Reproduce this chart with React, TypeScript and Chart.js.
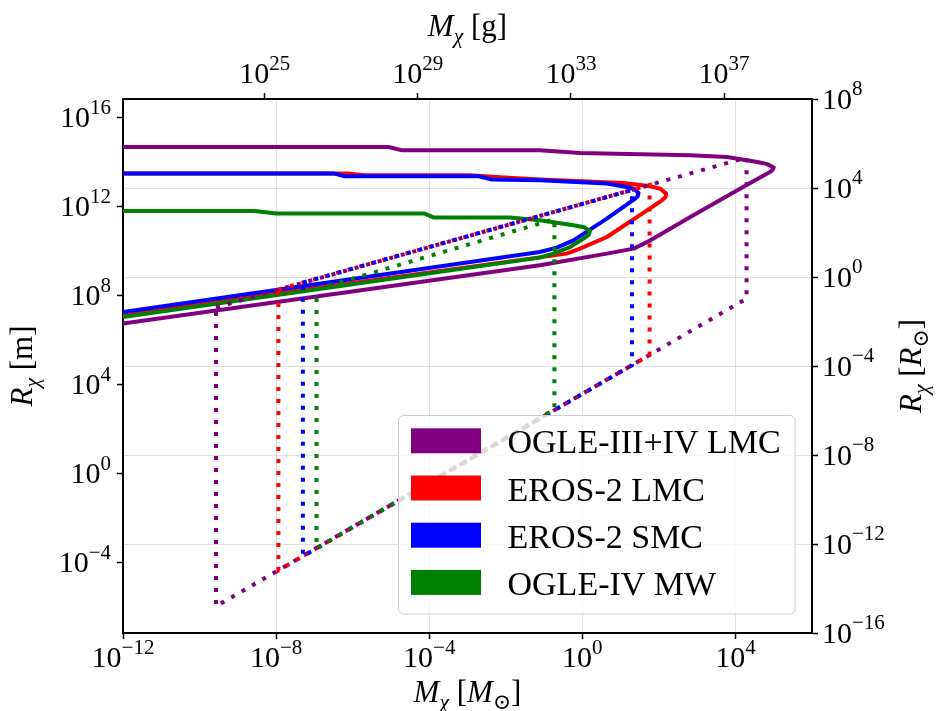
import React, { useEffect, useRef } from 'react';
import { Chart, registerables } from 'chart.js';

Chart.register(...registerables);

const FONT = '"Liberation Serif", "DejaVu Serif", serif';
const M_SUN_G = 1.989e33;
const R_SUN_M = 6.957e8;

// axis ranges (solar units)
const X_MIN = 1e-12;
const X_MAX = 1e6;
const YR_MIN = 1e-16;
const YR_MAX = 1e8;

// tick exponents
const X_TICK_EXP = [-12, -8, -4, 0, 4];
const XG_TICK_EXP = [25, 29, 33, 37];
const YM_TICK_EXP = [-4, 0, 4, 8, 12, 16];
const YR_TICK_EXP = [-16, -12, -8, -4, 0, 4, 8];

const SERIES_NAMES = ['OGLE-III+IV LMC', 'EROS-2 LMC', 'EROS-2 SMC', 'OGLE-IV MW'];
const SERIES_COLORS = ['#800080', '#ff0000', '#0000ff', '#008000'];

// Solid exclusion contours: log10(M / M_sun), log10(R / m)
const ogleLmcLogM = [-12, -5.06, -4.71, -1.11, -0.06, 2.82, 3.78, 4.57, 4.83, 5.0, 4.95, 4.83, 4.13, 2.82, 1.78, 1.34, 0.64, -1.11, -12];
const ogleLmcLogR = [14.685, 14.685, 14.536, 14.536, 14.415, 14.312, 14.235, 14.011, 13.916, 13.759, 13.615, 13.49, 12.815, 11.539, 10.49, 10.118, 9.893, 9.368, 6.748];

const erosLmcLogM = [-12, -6.08, -5.69, -2.94, -2.15, -1.11, 1.08, 1.78, 2.04, 2.19, 2.17, 2.08, 1.69, 0.64, -0.06, -0.41, -12];
const erosLmcLogR = [13.489, 13.489, 13.413, 13.413, 13.323, 13.22, 13.067, 12.918, 12.806, 12.59, 12.424, 12.289, 11.84, 10.64, 10.118, 9.893, 7.166];

const erosSmcLogM = [-12, -6.47, -6.21, -2.7, -2.36, -1.11, 0.64, 1.165, 1.356, 1.468, 1.447, 1.382, 0.641, -0.233, -0.668, -1.11, -12];
const erosSmcLogR = [13.489, 13.489, 13.368, 13.368, 13.22, 13.188, 13.04, 12.887, 12.797, 12.617, 12.469, 12.365, 11.467, 10.491, 10.163, 9.966, 7.269];

const ogleMwLogM = [-12, -8.57, -7.99, -4.12, -3.88, -1.89, -1.11, -0.23, 0.047, 0.2, 0.165, 0.03, -0.32, -0.76, -1.11, -12];
const ogleMwLogR = [11.808, 11.808, 11.692, 11.692, 11.512, 11.512, 11.39, 11.166, 11.076, 10.909, 10.739, 10.568, 10.19, 9.894, 9.714, 7.044];

// Dotted regions: log10(M / M_sun), log10(R / m)
const ogleLmcDotLogM = [-9.57, 4.29, 4.29, -9.57, -9.57];
const ogleLmcDotLogR = [7.48, 14.21, 7.87, -5.96, 7.48];
const erosLmcDotLogM = [-7.94, 1.757, 1.757, -7.94, -7.94];
const erosLmcDotLogR = [8.285, 12.977, 5.341, -4.345, 8.285];
const erosSmcDotLogM = [-7.3, 1.297, 1.297, -7.3, -7.3];
const erosSmcDotLogR = [8.59, 12.752, 4.882, -3.706, 8.59];
const ogleMwDotLogM = [-6.945, -0.73, -0.73, -6.945, -6.945];
const ogleMwDotLogR = [8.29, 11.44, 2.896, -3.351, 8.29];

const SOLID = [
  [ogleLmcLogM, ogleLmcLogR],
  [erosLmcLogM, erosLmcLogR],
  [erosSmcLogM, erosSmcLogR],
  [ogleMwLogM, ogleMwLogR],
];
const DOTTED = [
  [ogleLmcDotLogM, ogleLmcDotLogR],
  [erosLmcDotLogM, erosLmcDotLogR],
  [erosSmcDotLogM, erosSmcDotLogR],
  [ogleMwDotLogM, ogleMwDotLogR],
];

type Seg = { t: string; it?: boolean; sub?: boolean; sup?: boolean };

function segSize(s: Seg, size: number) {
  return s.sub || s.sup ? size * 0.7 : size;
}
function setFont(ctx: CanvasRenderingContext2D, s: Seg, size: number) {
  ctx.font = `${s.it ? 'italic ' : ''}${segSize(s, size)}px ${FONT}`;
}
function richWidth(ctx: CanvasRenderingContext2D, segs: Seg[], size: number) {
  let w = 0;
  for (const s of segs) {
    setFont(ctx, s, size);
    w += ctx.measureText(s.t).width;
  }
  return w;
}
function drawRich(
  ctx: CanvasRenderingContext2D,
  segs: Seg[],
  x: number,
  y: number,
  size: number,
  align: 'left' | 'center' | 'right'
) {
  const w = richWidth(ctx, segs, size);
  let cx = align === 'left' ? x : align === 'center' ? x - w / 2 : x - w;
  ctx.textAlign = 'left';
  ctx.textBaseline = 'alphabetic';
  for (const s of segs) {
    setFont(ctx, s, size);
    const dy = s.sup ? -size * 0.45 : s.sub ? size * 0.22 : 0;
    ctx.fillText(s.t, cx, y + dy);
    cx += ctx.measureText(s.t).width;
  }
}
function expSegs(e: number): Seg[] {
  return [{ t: '10' }, { t: String(e).replace('-', '\u2212'), sup: true }];
}

const TICK_SIZE = 30;
const TITLE_SIZE = 31;
const LEGEND_SIZE = 34;

const overlayPlugin = {
  id: 'overlay',
  afterDraw(chart: any) {
    const { ctx, chartArea: ca, scales } = chart;
    ctx.save();
    ctx.fillStyle = '#000';
    // tick labels
    for (const e of X_TICK_EXP) {
      const px = scales.x.getPixelForValue(10 ** e);
      drawRich(ctx, expSegs(e), px, ca.bottom + 34, TICK_SIZE, 'center');
    }
    for (const e of XG_TICK_EXP) {
      const px = scales.x2.getPixelForValue(10 ** e);
      drawRich(ctx, expSegs(e), px, ca.top - 16, TICK_SIZE, 'center');
    }
    for (const e of YM_TICK_EXP) {
      const py = scales.y.getPixelForValue(10 ** e);
      drawRich(ctx, expSegs(e), ca.left - 12, py + TICK_SIZE * 0.32, TICK_SIZE, 'right');
    }
    for (const e of YR_TICK_EXP) {
      const py = scales.y2.getPixelForValue(10 ** e);
      drawRich(ctx, expSegs(e), ca.right + 10, py + TICK_SIZE * 0.32, TICK_SIZE, 'left');
    }
    // axis titles
    const cxm = (ca.left + ca.right) / 2;
    const cym = (ca.top + ca.bottom) / 2;
    drawRich(
      ctx,
      [{ t: 'M', it: true }, { t: '\u03c7', it: true, sub: true }, { t: ' [' }, { t: 'M', it: true }, { t: '\u2299', sub: true }, { t: ']' }],
      cxm,
      ca.bottom + 69,
      TITLE_SIZE,
      'center'
    );
    drawRich(
      ctx,
      [{ t: 'M', it: true }, { t: '\u03c7', it: true, sub: true }, { t: ' [g]' }],
      cxm,
      ca.top - 63,
      TITLE_SIZE,
      'center'
    );
    ctx.save();
    ctx.translate(ca.left - 91, cym);
    ctx.rotate(-Math.PI / 2);
    drawRich(ctx, [{ t: 'R', it: true }, { t: '\u03c7', it: true, sub: true }, { t: ' [m]' }], 0, 0, TITLE_SIZE, 'center');
    ctx.restore();
    ctx.save();
    ctx.translate(ca.right + 109, cym);
    ctx.rotate(-Math.PI / 2);
    drawRich(
      ctx,
      [{ t: 'R', it: true }, { t: '\u03c7', it: true, sub: true }, { t: ' [' }, { t: 'R', it: true }, { t: '\u2299', sub: true }, { t: ']' }],
      0,
      0,
      TITLE_SIZE,
      'center'
    );
    ctx.restore();

    // legend
    const lx = ca.right - 413.5;
    const ly = ca.bottom - 217.5;
    const lw = 396.5;
    const lh = 198.5;
    ctx.beginPath();
    (ctx as any).roundRect(lx, ly, lw, lh, 5);
    ctx.fillStyle = 'rgba(255,255,255,0.8)';
    ctx.fill();
    ctx.strokeStyle = '#cccccc';
    ctx.lineWidth = 1;
    ctx.stroke();
    SERIES_NAMES.forEach((name, i) => {
      const top = ly + 12.8 + i * 47.2;
      ctx.fillStyle = SERIES_COLORS[i];
      ctx.fillRect(lx + 12.5, top, 70, 25);
      ctx.fillStyle = '#000';
      drawRich(ctx, [{ t: name }], lx + 109, top + 25, LEGEND_SIZE, 'left');
    });
    ctx.restore();
  },
};

function toPoints(logM: number[], logR: number[]) {
  return logM.map((m, i) => ({ x: 10 ** m, y: 10 ** logR[i] }));
}

export default function App() {
  const canvasRef = useRef<HTMLCanvasElement | null>(null);

  useEffect(() => {
    document.body.style.margin = '0';
    const canvas = canvasRef.current;
    if (!canvas) return;

    const bottomToTop: any[] = [];
    SOLID.forEach(([lm, lr], i) => {
      bottomToTop.push({
        label: SERIES_NAMES[i],
        data: toPoints(lm, lr),
        showLine: true,
        borderColor: SERIES_COLORS[i],
        borderWidth: 4,
        borderJoinStyle: 'round',
        borderCapStyle: 'round',
        pointRadius: 0,
        fill: false,
        tension: 0,
        xAxisID: 'x',
        yAxisID: 'y',
      });
    });
    DOTTED.forEach(([lm, lr], i) => {
      bottomToTop.push({
        label: SERIES_NAMES[i] + ' dotted',
        data: toPoints(lm, lr),
        showLine: true,
        borderColor: SERIES_COLORS[i],
        borderWidth: 4,
        borderDash: [4, 8],
        borderCapStyle: 'butt',
        pointRadius: 0,
        fill: false,
        tension: 0,
        xAxisID: 'x',
        yAxisID: 'y',
      });
    });
    const datasets = bottomToTop.reverse();

    const GRID = 'rgba(0,0,0,0.12)';
    const tickGrid = (onArea: boolean) => ({
      display: true,
      drawOnChartArea: onArea,
      color: GRID,
      lineWidth: 1,
      drawTicks: true,
      tickLength: 6,
      tickWidth: 1.5,
      tickColor: '#000',
    });
    const border = { display: true, color: '#000', width: 2 };

    const chart = new Chart(canvas, {
      type: 'scatter',
      data: { datasets },
      plugins: [overlayPlugin],
      options: {
        responsive: false,
        maintainAspectRatio: false,
        animation: false,
        layout: { padding: 0 },
        plugins: { legend: { display: false }, tooltip: { enabled: false } },
        scales: {
          x: {
            type: 'logarithmic',
            position: 'bottom',
            min: X_MIN,
            max: X_MAX,
            bounds: 'data',
            afterBuildTicks: (ax: any) => {
              ax.ticks = X_TICK_EXP.map((e) => ({ value: 10 ** e }));
            },
            afterFit: (ax: any) => {
              ax.height = 78;
            },
            ticks: { display: false },
            grid: tickGrid(true),
            border,
          },
          x2: {
            type: 'logarithmic',
            position: 'top',
            min: X_MIN * M_SUN_G,
            max: X_MAX * M_SUN_G,
            bounds: 'data',
            afterBuildTicks: (ax: any) => {
              ax.ticks = XG_TICK_EXP.map((e) => ({ value: 10 ** e }));
            },
            afterFit: (ax: any) => {
              ax.height = 99;
            },
            ticks: { display: false },
            grid: tickGrid(false),
            border,
          },
          y: {
            type: 'logarithmic',
            position: 'left',
            min: YR_MIN * R_SUN_M,
            max: YR_MAX * R_SUN_M,
            bounds: 'data',
            afterBuildTicks: (ax: any) => {
              ax.ticks = YM_TICK_EXP.map((e) => ({ value: 10 ** e }));
            },
            afterFit: (ax: any) => {
              ax.width = 123;
            },
            ticks: { display: false },
            grid: tickGrid(false),
            border,
          },
          y2: {
            type: 'logarithmic',
            position: 'right',
            min: YR_MIN,
            max: YR_MAX,
            bounds: 'data',
            afterBuildTicks: (ax: any) => {
              ax.ticks = YR_TICK_EXP.map((e) => ({ value: 10 ** e }));
            },
            afterFit: (ax: any) => {
              ax.width = 126;
            },
            ticks: { display: false },
            grid: tickGrid(true),
            border,
          },
        },
      } as any,
    });

    return () => {
      chart.destroy();
    };
  }, []);

  return (
    <div style={{ width: 938, height: 711, background: '#fff' }}>
      <canvas ref={canvasRef} width={938} height={711} style={{ display: 'block' }} />
    </div>
  );
}
